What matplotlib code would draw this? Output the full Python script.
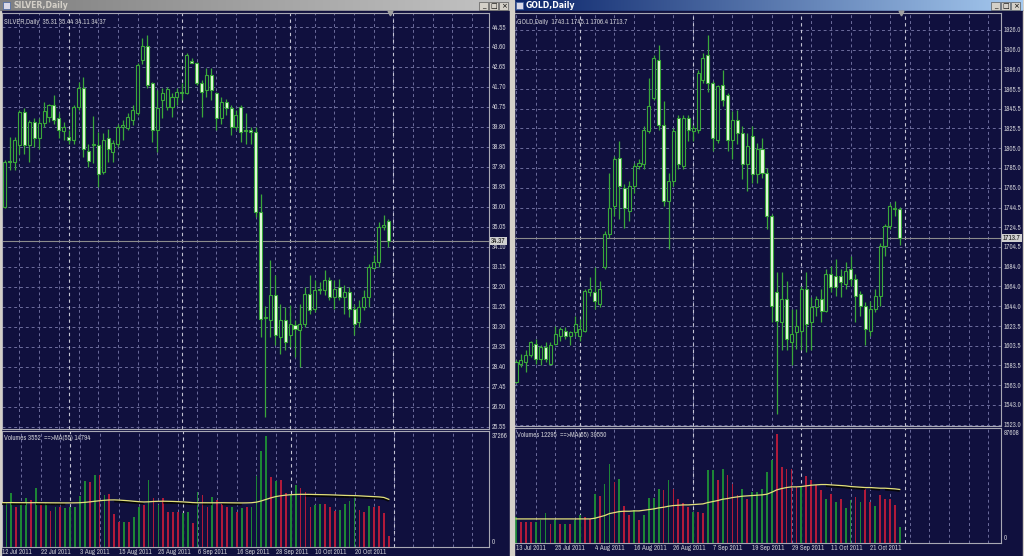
import matplotlib

matplotlib.use('Agg')
import matplotlib.pyplot as plt
import numpy as np
from matplotlib import font_manager as fm
from matplotlib.collections import LineCollection
from matplotlib.colors import LinearSegmentedColormap
from matplotlib.patches import Rectangle

W, H = 1024, 556

# ---------------- data ----------------
# SILVER daily, 12 Jul 2011 .. 31 Oct 2011 (first bar hidden under the frame)
silver_open = [35.60, 35.99, 38.17, 38.14, 38.93, 40.52, 38.93, 40.04, 39.25, 40.00,
               40.28, 40.84, 40.20, 39.61, 39.30, 39.17, 40.76, 41.63, 38.66, 38.93,
               38.93, 37.66, 39.25, 38.61, 39.01, 39.80, 39.77, 40.12, 40.47, 43.00,
               43.65, 41.87, 39.64, 41.07, 40.76, 40.76, 41.23, 41.45, 41.39, 42.95,
               42.82, 41.87, 41.55, 42.26, 41.39, 40.20, 40.99, 40.68, 39.80, 40.76,
               39.64, 39.64, 39.57, 35.76, 30.70, 30.60, 31.79, 29.80, 30.60, 29.88,
               30.36, 30.12, 30.44, 31.87, 31.15, 32.03, 32.03, 32.50, 31.71, 32.18,
               31.71, 31.95, 31.15, 30.52, 31.23, 31.71, 33.10, 33.37, 35.04, 35.31]
silver_high = [36.30, 38.22, 39.33, 39.33, 40.60, 40.68, 40.12, 40.20, 40.20, 40.99,
               40.88, 41.31, 40.44, 40.04, 39.64, 40.84, 41.95, 42.18, 39.01, 40.30,
               39.57, 39.49, 39.72, 39.17, 39.93, 40.12, 40.47, 40.84, 42.82, 44.01,
               44.17, 41.95, 41.55, 41.63, 41.71, 41.39, 41.63, 41.90, 43.30, 43.06,
               42.90, 42.03, 42.58, 42.58, 41.47, 41.23, 41.15, 40.84, 40.60, 40.84,
               40.44, 39.80, 39.80, 36.63, 31.30, 33.45, 32.74, 31.39, 31.23, 31.31,
               30.60, 31.39, 32.18, 32.74, 32.50, 32.42, 32.98, 32.66, 32.50, 32.58,
               32.26, 32.18, 31.39, 31.55, 32.03, 33.30, 33.69, 35.28, 35.60, 35.44]
silver_low = [35.30, 35.95, 37.74, 37.74, 38.53, 38.53, 38.14, 38.85, 38.77, 39.80,
              40.04, 39.96, 39.25, 39.17, 39.01, 39.01, 40.60, 38.38, 37.90, 38.06,
              36.95, 37.58, 38.14, 38.14, 38.85, 39.17, 39.64, 39.88, 40.36, 42.80,
              41.63, 39.09, 38.61, 40.20, 40.60, 40.28, 40.84, 41.10, 41.36, 42.82,
              41.79, 40.28, 41.23, 41.07, 39.64, 39.96, 40.36, 39.41, 39.64, 39.09,
              39.01, 39.01, 35.50, 29.80, 25.99, 29.80, 29.41, 29.01, 29.17, 29.33,
              28.85, 28.37, 30.28, 30.91, 30.99, 31.87, 31.79, 31.55, 31.15, 31.55,
              30.91, 30.76, 29.88, 30.28, 31.07, 31.23, 33.06, 33.14, 34.88, 34.11]
silver_close = [36.00, 38.14, 38.11, 39.17, 40.52, 38.93, 40.04, 39.25, 39.99, 40.55,
                40.84, 40.12, 39.64, 39.80, 39.20, 40.76, 41.63, 38.77, 38.18, 39.01,
                37.58, 39.17, 38.77, 39.04, 39.80, 39.90, 40.25, 40.60, 42.74, 43.65,
                41.79, 39.64, 40.68, 41.39, 41.58, 41.23, 41.47, 41.42, 43.22, 42.85,
                41.87, 41.47, 42.26, 41.55, 40.20, 40.99, 40.68, 39.80, 40.36, 39.57,
                39.60, 39.57, 35.76, 30.68, 30.76, 31.79, 29.88, 30.60, 29.57, 30.44,
                30.20, 30.44, 31.87, 31.07, 32.03, 32.10, 32.50, 31.71, 32.10, 31.71,
                31.95, 31.15, 30.44, 31.23, 31.71, 33.14, 33.37, 35.04, 35.12, 34.37]
silver_volume = [13425, 13962, 17184, 12888, 13425, 15573, 15036, 18795, 13425, 13962,
                 11492, 12888, 12888, 12566, 12888, 12888, 16432, 21158, 20943, 22876,
                 22876, 16647, 16969, 10418, 8055, 8055, 7840, 9666, 12888, 13425,
                 21480, 15573, 13425, 15573, 11277, 11277, 11277, 10740, 11062, 7518,
                 17721, 16647, 12888, 16110, 15036, 13747, 12888, 12888, 11277, 12566,
                 12888, 12888, 22554, 30609, 35442, 22232, 21158, 21480, 17184, 16647,
                 19869, 18795, 17721, 12888, 13425, 13747, 13747, 12888, 11599, 11814,
                 13747, 14714, 16432, 11814, 11062, 13103, 12888, 13103, 10955, 3552]
silver_vol_up = "GGGRGGRGRGRGRGGGGGRGRGRRRGRGGRGRGRRRRGGRGRRGRRRGRGRGGGGRGRRGGRRRGGRRRGGGGRRGRRRR"
silver_ma = [13750, 13740, 13760, 13740, 13730, 13720, 13720, 13740, 13720, 13710,
             13690, 13680, 13670, 13660, 13660, 13680, 13720, 13830, 13990, 14180,
             14350, 14500, 14600, 14620, 14560, 14450, 14330, 14180, 14050, 13960,
             14010, 14120, 14170, 14200, 14170, 14130, 14060, 13980, 13880, 13760,
             13700, 13710, 13700, 13690, 13700, 13720, 13700, 13680, 13660, 13650,
             13670, 13720, 13900, 14300, 14800, 15300, 15700, 15950, 16150, 16280,
             16350, 16400, 16400, 16380, 16340, 16310, 16280, 16240, 16190, 16120,
             16060, 16020, 15990, 15920, 15830, 15740, 15660, 15580, 15400, 14794]
silver_price_labels = ['44.55', '43.60', '42.65', '41.70', '40.75', '39.80', '38.85',
                       '37.90', '36.95', '36.00', '35.05', '34.10', '33.15', '32.20',
                       '31.25', '30.30', '29.35', '28.40', '27.45', '26.50', '25.55']
silver_dates = ['12 Jul 2011', '22 Jul 2011', '3 Aug 2011', '15 Aug 2011', '25 Aug 2011',
                '6 Sep 2011', '16 Sep 2011', '28 Sep 2011', '10 Oct 2011', '20 Oct 2011']
silver_month_starts = [14, 37, 59, 80]

# GOLD daily, 13 Jul 2011 .. 31 Oct 2011
gold_open = [1566.4, 1585.1, 1586.8, 1593.6, 1605.4, 1590.2, 1602.1, 1585.1, 1605.4, 1613.9,
             1619.0, 1613.9, 1617.3, 1613.9, 1619.0, 1658.0, 1658.0, 1646.2, 1683.5, 1717.4,
             1746.2, 1795.4, 1764.9, 1741.1, 1766.6, 1786.9, 1788.6, 1822.5, 1856.5, 1895.5,
             1829.3, 1751.3, 1771.7, 1836.1, 1786.9, 1836.1, 1823.0, 1824.2, 1875.1, 1900.6,
             1871.7, 1814.1, 1870.0, 1859.9, 1814.1, 1834.4, 1820.8, 1788.6, 1817.5, 1778.4,
             1803.9, 1780.1, 1736.0, 1658.0, 1627.5, 1651.2, 1607.1, 1617.3, 1619.0, 1661.4,
             1627.5, 1642.8, 1651.2, 1639.4, 1676.7, 1675.0, 1675.0, 1666.5, 1681.8, 1671.6,
             1656.3, 1644.5, 1619.0, 1641.1, 1654.6, 1705.5, 1725.9, 1742.8, 1743.1]
gold_high = [1589.0, 1595.3, 1598.7, 1608.8, 1610.5, 1603.8, 1607.1, 1607.1, 1624.1, 1622.4,
             1622.4, 1619.0, 1634.3, 1630.9, 1661.4, 1673.3, 1683.5, 1669.9, 1720.8, 1780.1,
             1797.1, 1812.4, 1768.3, 1771.7, 1790.3, 1793.7, 1827.6, 1876.8, 1900.6, 1910.7,
             1853.1, 1780.1, 1825.9, 1839.5, 1839.5, 1839.5, 1829.3, 1885.3, 1902.3, 1920.9,
             1873.4, 1870.0, 1885.3, 1861.6, 1842.9, 1844.6, 1827.6, 1820.8, 1827.6, 1810.7,
             1815.8, 1785.2, 1737.7, 1678.4, 1678.4, 1669.9, 1641.1, 1641.1, 1664.8, 1678.4,
             1652.9, 1654.6, 1661.4, 1681.8, 1685.2, 1691.9, 1681.8, 1688.5, 1695.3, 1676.7,
             1659.7, 1647.8, 1649.5, 1661.4, 1708.9, 1727.6, 1749.6, 1751.3, 1745.1]
gold_low = [1565.0, 1581.7, 1576.6, 1591.9, 1585.1, 1583.4, 1586.8, 1583.4, 1603.8, 1608.8,
            1610.5, 1603.8, 1613.9, 1608.8, 1617.3, 1654.6, 1641.1, 1642.8, 1681.8, 1714.0,
            1736.0, 1732.6, 1724.2, 1731.0, 1759.8, 1783.5, 1783.5, 1820.8, 1854.8, 1824.2,
            1746.2, 1702.1, 1766.6, 1783.5, 1783.5, 1812.4, 1812.4, 1820.8, 1871.7, 1863.0,
            1802.2, 1810.7, 1848.0, 1802.2, 1793.7, 1809.0, 1773.4, 1761.5, 1770.0, 1770.0,
            1775.0, 1722.5, 1627.5, 1534.2, 1598.7, 1598.7, 1583.4, 1600.4, 1598.7, 1597.0,
            1598.7, 1634.3, 1627.5, 1637.7, 1658.0, 1654.6, 1652.9, 1661.4, 1664.8, 1627.5,
            1634.3, 1603.8, 1613.9, 1637.7, 1644.5, 1695.3, 1722.5, 1736.0, 1706.4]
gold_close = [1586.8, 1588.5, 1593.6, 1607.1, 1590.2, 1602.1, 1590.2, 1603.8, 1615.6, 1620.7,
              1613.9, 1617.3, 1625.8, 1620.7, 1659.7, 1661.4, 1649.5, 1661.4, 1717.4, 1744.5,
              1793.7, 1766.6, 1744.5, 1766.6, 1786.9, 1790.3, 1824.2, 1848.0, 1897.2, 1829.3,
              1751.3, 1771.7, 1822.5, 1788.6, 1836.1, 1824.2, 1825.9, 1881.9, 1897.2, 1871.7,
              1815.8, 1868.3, 1854.8, 1814.1, 1834.4, 1820.8, 1788.6, 1807.3, 1778.4, 1803.9,
              1780.1, 1736.0, 1644.5, 1629.2, 1651.2, 1610.5, 1615.6, 1624.1, 1661.4, 1625.8,
              1642.8, 1651.2, 1639.4, 1676.7, 1663.1, 1663.1, 1668.2, 1680.1, 1671.6, 1654.6,
              1644.5, 1620.7, 1641.1, 1654.6, 1705.5, 1725.9, 1746.2, 1744.5, 1713.7]
gold_volume = [19750, 15952, 15952, 15952, 15952, 17218, 22788, 14686, 17218, 14686,
               14686, 14686, 17218, 21016, 19750, 18484, 37474, 35448, 45070, 60262,
               46336, 48868, 27852, 21016, 24814, 17218, 21016, 34435, 34435, 41272,
               40512, 47602, 41272, 33676, 30384, 27346, 23548, 23548, 22788, 55198,
               55704, 48108, 56464, 51400, 45070, 36208, 41272, 33676, 38740, 38740,
               41272, 53932, 62794, 83050, 57730, 56464, 56464, 42538, 42538, 50640,
               48108, 43804, 40006, 33676, 37474, 31144, 33676, 26839, 32410, 34942,
               31144, 41272, 31144, 27852, 36208, 33676, 33169, 28612, 12295]
gold_vol_up = "GRRRGGGRGRGRGGRRGRGGRGRRGRGGGGRGRRRRGRRGGRGRRRGRGGGGGRRRRRGRRRRGRGRGGRGRRGRRRR"
gold_ma = [17218, 17218, 17218, 17218, 17218, 17218, 17218, 17218, 17218, 17218,
           17218, 17218, 17218, 17218, 17218, 17218, 17724, 18737, 19750, 21269,
           22028, 22788, 23041, 23041, 23294, 23294, 23801, 24307, 24814, 25573,
           26080, 26839, 27346, 27599, 27852, 27852, 28105, 28358, 28612, 29624,
           30384, 31144, 32156, 32663, 33422, 33929, 34435, 34688, 34942, 35195,
           35448, 35954, 37474, 39246, 40259, 41018, 41525, 41525, 41778, 42284,
           42791, 43044, 43297, 43297, 43044, 42791, 42538, 42284, 41778, 41525,
           41272, 41018, 41018, 40765, 40512, 40512, 40259, 40006, 39550]
gold_price_labels = ['1926.0', '1906.0', '1886.0', '1865.5', '1845.5', '1825.5', '1805.0',
                     '1785.0', '1765.0', '1744.5', '1724.5', '1704.5', '1684.0', '1664.0',
                     '1644.0', '1623.5', '1603.5', '1583.5', '1563.0', '1543.0', '1523.0']
gold_dates = ['13 Jul 2011', '25 Jul 2011', '4 Aug 2011', '16 Aug 2011', '26 Aug 2011',
              '7 Sep 2011', '19 Sep 2011', '29 Sep 2011', '11 Oct 2011', '21 Oct 2011']
gold_month_starts = [13, 36, 58, 79]

# ---------------- style ----------------
NAVY = '#10103e'
GRID = '#6c6c9c'
SEP = '#c4c4d4'
FRAME = '#a8a8b4'
CANDLE = '#3aa83a'
BEAR_FILL = '#e8fce0'
VOL_G = '#1d8636'
VOL_R = '#b01a3a'
MA_COL = '#e2e07a'
TXT = '#c8c8d0'
BAR_PX = 4.92

fig = plt.figure(figsize=(W / 100, H / 100), dpi=100, facecolor='#d4d0c8')


# small narrow font, like the terminal's; fall back to Liberation Sans
def pick_font():
    best = None
    for f in fm.fontManager.ttflist:
        nm = f.name.lower()
        st = str(f.stretch).lower()
        if f.style != 'normal' or str(f.weight) not in ('400', 'normal', 'regular', 'book'):
            continue
        score = 0
        if 'narrow' in nm:
            score = 3
        elif 'condensed' in nm or st in ('condensed', 'semi-condensed'):
            score = 2
        elif nm == 'liberation sans':
            score = 1
        if score and (best is None or score > best[0]):
            best = (score, f.fname)
    return best[1] if best else fm.findfont('DejaVu Sans')


FONT_FILE = pick_font()
_probe = fig.text(0, 0, '22 Jul 2011', fontproperties=fm.FontProperties(fname=FONT_FILE, size=10))
_w = _probe.get_window_extent(fig.canvas.get_renderer()).width
_probe.remove()
FS = min(6.4, 10 * 29.5 / _w)
FP = fm.FontProperties(fname=FONT_FILE, size=FS)


def px_axes(x0, y0, x1, y1, z=1):
    ax = fig.add_axes([x0 / W, 1 - y1 / H, (x1 - x0) / W, (y1 - y0) / H])
    ax.set_zorder(z)
    return ax


# chrome layer
bg = px_axes(0, 0, W, H, z=0)
bg.set_xlim(0, W)
bg.set_ylim(H, 0)
bg.axis('off')
bg.add_patch(Rectangle((0, 11), 511, H - 11, color=NAVY))
bg.add_patch(Rectangle((513, 11), 510, H - 11, color=NAVY))
grad = np.linspace(0, 1, 256)[None, :]
bg.imshow(grad, extent=(0, 511, 11, 0), aspect='auto',
          cmap=LinearSegmentedColormap.from_list('inact', ['#808080', '#c4c4c4']))
bg.imshow(grad, extent=(513, 1023, 11, 0), aspect='auto',
          cmap=LinearSegmentedColormap.from_list('act', ['#0a246a', '#a6caf0']))
bg.text(13, 5.5, 'SILVER,Daily', color='#d4d0c8', fontsize=5.6, fontweight='bold', va='center')
bg.text(526, 5.5, 'GOLD,Daily', color='white', fontsize=5.6, fontweight='bold', va='center')
for x0 in (3, 516):
    bg.add_patch(Rectangle((x0, 2), 7, 7, facecolor='#d8d8e8', edgecolor='#4060a0', lw=0.5))
for xr in (511, 1023):
    for k, glyph in enumerate(['_', '□', '×']):
        bx = xr - 32 + k * 10
        bg.add_patch(Rectangle((bx, 1.5), 9, 8.5, facecolor='#d4d0c8', edgecolor='#404040', lw=0.4))
        bg.text(bx + 4.5, 6, glyph, fontsize=5, ha='center', va='center', color='black')


def candles(ax, x, o, h, l, c):
    o, h, l, c = map(np.asarray, (o, h, l, c))
    ax.vlines(x, l, h, color=CANDLE, lw=0.9, zorder=3)
    face = np.where(c < o, BEAR_FILL, NAVY)
    ax.bar(x, np.maximum(np.abs(c - o), 1e-4), bottom=np.minimum(o, c), width=0.62,
           color=face, edgecolor=CANDLE, linewidth=0.8, zorder=4)


def style(ax):
    ax.set_facecolor(NAVY)
    for s in ax.spines.values():
        s.set_color(FRAME)
        s.set_linewidth(0.8)
    ax.tick_params(length=0, colors=TXT)


def chart(cx0, cx1, my0, my1, vy0, vy1, bar0_px, ylim, o, h, l, c, vol, up, ma,
          plabels, dates, months, vmax, info, vtext, last_label):
    n = len(o)
    x = np.arange(n)
    xl = ((cx0 - bar0_px) / BAR_PX, (cx1 - bar0_px) / BAR_PX)
    grid_x = np.arange(0, 100, 4)

    ax = px_axes(cx0, my0, cx1, my1, z=2)
    style(ax)
    ax.set_xlim(*xl)
    ax.set_ylim(*ylim)
    levels = [float(s) for s in plabels]
    for v in levels:
        ax.axhline(v, color=GRID, lw=0.7, ls=(0, (3, 3)), zorder=1)
    for g in grid_x:
        ax.axvline(g, color=GRID, lw=0.7, ls=(0, (3, 3)), zorder=1)
    for m in months:
        ax.axvline(m, color=SEP, lw=0.8, ls=(0, (3, 3)), zorder=1.5)
    ax.axhline(c[-1], color='#8c8c8c', lw=0.8, zorder=2)
    candles(ax, x, o, h, l, c)
    ax.yaxis.tick_right()
    ax.set_yticks(levels)
    ax.set_yticklabels(plabels, fontproperties=FP)
    ax.tick_params(axis='y', pad=2.2)
    ax.set_xticks([])
    ax.annotate(last_label, xy=(1, c[-1]), xycoords=('axes fraction', 'data'),
                xytext=(1.5, 0), textcoords='offset points', fontproperties=FP, va='center',
                color='#101010', bbox=dict(boxstyle='square,pad=0.15', fc='#d0d0d0', ec='none'),
                annotation_clip=False, zorder=10)
    ax.text(0.006, 0.985, info, transform=ax.transAxes, fontproperties=FP, color=TXT, va='top')
    ax.plot([n - 1 + 0.3], [ylim[1]], marker='v', ms=3.5, color='#a0a0a0', clip_on=False, zorder=6)

    vx = px_axes(cx0, vy0, cx1, vy1, z=2)
    style(vx)
    vx.set_xlim(*xl)
    vx.set_ylim(0, vmax)
    for g in grid_x:
        vx.axvline(g, color=GRID, lw=0.7, ls=(0, (3, 3)), zorder=1)
    for m in months:
        vx.axvline(m, color=SEP, lw=0.8, ls=(0, (3, 3)), zorder=1.5)
    cols = [VOL_G if u == 'G' else VOL_R for u in up]
    vx.bar(x, vol, width=0.36, color=cols, zorder=3)
    # MA(55): dark shadow under the falling stretches, pale yellow line on top
    ma = np.asarray(ma, dtype=float)
    falling = [[(i, ma[i]), (i + 1, ma[i + 1])] for i in range(n - 1) if ma[i + 1] < ma[i]]
    vx.add_collection(LineCollection(falling, colors='#050505', linewidths=1.4, zorder=4))
    vx.plot(x, ma + vmax * 0.012, color=MA_COL, lw=0.9, zorder=5)
    vx.set_yticks([])
    vx.annotate(f'{vmax}', xy=(1, 1), xycoords='axes fraction', xytext=(2, -1.5),
                textcoords='offset points', fontproperties=FP, color=TXT, va='top',
                annotation_clip=False)
    vx.annotate('0', xy=(1, 0), xycoords='axes fraction', xytext=(2, 1.5),
                textcoords='offset points', fontproperties=FP, color=TXT, va='bottom',
                annotation_clip=False)
    vx.text(0.006, 0.96, vtext, transform=vx.transAxes, fontproperties=FP, color=TXT, va='top')
    vx.set_xticks(np.arange(0, 8 * len(dates), 8))
    vx.set_xticklabels(dates, ha='left', fontproperties=FP)
    vx.tick_params(axis='x', pad=1.2)


chart(1.5, 489, 13, 428.5, 430.5, 547, -0.2, (25.455, 45.217),
      silver_open, silver_high, silver_low, silver_close, silver_volume, silver_vol_up,
      silver_ma, silver_price_labels, silver_dates, silver_month_starts, 37266,
      'SILVER,Daily  35.31 35.44 34.11 34.37', 'Volumes 3552  ==>MA(55) 14794', '34.37')
chart(514, 1001, 13, 425.5, 427.5, 543, 516, (1522.0, 1943.3),
      gold_open, gold_high, gold_low, gold_close, gold_volume, gold_vol_up,
      gold_ma, gold_price_labels, gold_dates, gold_month_starts, 87608,
      'GOLD,Daily  1743.1 1745.1 1706.4 1713.7', 'Volumes 12295  ==>MA(55) 39550', '1713.7')

# window borders on top
top = px_axes(0, 0, W, H, z=5)
top.set_xlim(0, W)
top.set_ylim(H, 0)
top.axis('off')
top.patch.set_alpha(0)
top.add_patch(Rectangle((510, 0), 4, H, color='#d4d0c8'))
top.add_patch(Rectangle((0, 11), 1.2, H - 11, color='#d4d0c8'))
top.add_patch(Rectangle((1022.5, 11), 1.5, H - 11, color='#d4d0c8'))

fig.savefig('out.png', dpi=100, facecolor=fig.get_facecolor())
plt.close(fig)
